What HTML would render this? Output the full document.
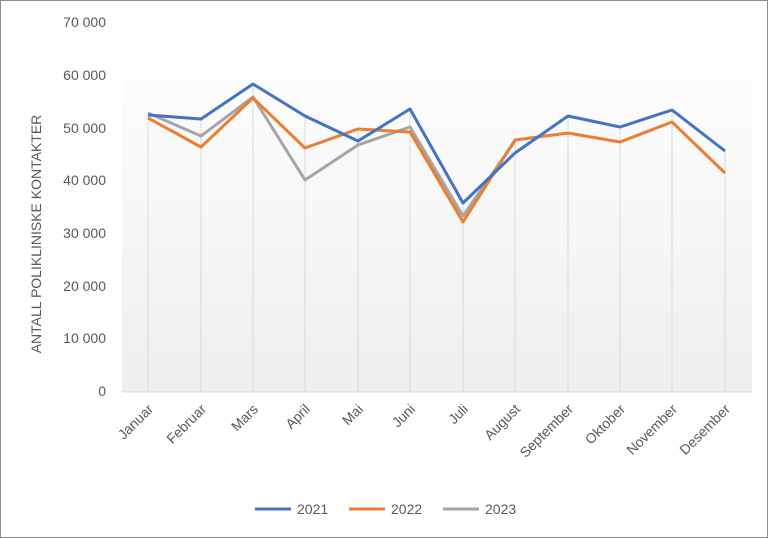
<!DOCTYPE html>
<html><head><style>
body{margin:0;background:#fff;}
svg{display:block;font-family:"Liberation Sans",sans-serif;}
</style></head><body>
<svg width="768" height="538" viewBox="0 0 768 538">
<defs><linearGradient id="g" x1="0" y1="0" x2="0" y2="1"><stop offset="0" stop-color="#ffffff"/><stop offset="1" stop-color="#efefef"/></linearGradient></defs>
<rect x="0.5" y="0.5" width="767" height="537" fill="#fff" stroke="#8c8c8c"/>
<rect x="122" y="22" width="630" height="370" fill="url(#g)"/>
<g stroke="#d9d9d9" stroke-width="1">
<line x1="148" y1="115" x2="148" y2="392"/><line x1="201" y1="119" x2="201" y2="392"/>
<line x1="253" y1="84" x2="253" y2="392"/><line x1="305" y1="116" x2="305" y2="392"/>
<line x1="358" y1="129" x2="358" y2="392"/><line x1="410" y1="109" x2="410" y2="392"/>
<line x1="463" y1="203" x2="463" y2="392"/><line x1="515" y1="141" x2="515" y2="392"/>
<line x1="568" y1="116" x2="568" y2="392"/><line x1="620" y1="127" x2="620" y2="392"/>
<line x1="672" y1="110" x2="672" y2="392"/><line x1="725" y1="151" x2="725" y2="392"/>
<line x1="122" y1="392" x2="752" y2="392"/>
</g>
<g font-size="14" fill="#595959" text-anchor="end">
<text x="106" y="396">0</text><text x="106" y="343">10 000</text><text x="106" y="291">20 000</text>
<text x="106" y="238">30 000</text><text x="106" y="185">40 000</text><text x="106" y="133">50 000</text>
<text x="106" y="80">60 000</text><text x="106" y="27">70 000</text>
</g>
<text transform="translate(41,234) rotate(-90)" font-size="14" fill="#595959" text-anchor="middle">ANTALL POLIKLINISKE KONTAKTER</text>
<g font-size="14" fill="#595959" text-anchor="end">
<text transform="translate(154,410) rotate(-45)">Januar</text>
<text transform="translate(207,410) rotate(-45)">Februar</text>
<text transform="translate(259,410) rotate(-45)">Mars</text>
<text transform="translate(311,410) rotate(-45)">April</text>
<text transform="translate(364,410) rotate(-45)">Mai</text>
<text transform="translate(416,410) rotate(-45)">Juni</text>
<text transform="translate(469,410) rotate(-45)">Juli</text>
<text transform="translate(521,410) rotate(-45)">August</text>
<text transform="translate(574,410) rotate(-45)">September</text>
<text transform="translate(626,410) rotate(-45)">Oktober</text>
<text transform="translate(678,410) rotate(-45)">November</text>
<text transform="translate(731,410) rotate(-45)">Desember</text>
</g>
<g fill="none" stroke-width="3" stroke-linejoin="round">
<polyline stroke="#a5a5a5" points="148,113 201,136 253,97 305,180 358,145 410,127 463,216 515,141"/>
<polyline stroke="#ed7d31" points="148,118 201,147 253,98 305,148 358,129 410,132 463,222 515,140 568,133 620,142 672,122 725,173"/>
<polyline stroke="#4472c4" points="148,115 201,119 253,84 305,116 358,141 410,109 463,203 515,153 568,116 620,127 672,110 725,151"/>
</g>
<g font-size="14" fill="#595959">
<line x1="255" y1="509" x2="291" y2="509" stroke="#4472c4" stroke-width="3"/><text x="297" y="514">2021</text>
<line x1="349" y1="509" x2="385" y2="509" stroke="#ed7d31" stroke-width="3"/><text x="391" y="514">2022</text>
<line x1="443" y1="509" x2="479" y2="509" stroke="#a5a5a5" stroke-width="3"/><text x="485" y="514">2023</text>
</g>
</svg>
</body></html>
